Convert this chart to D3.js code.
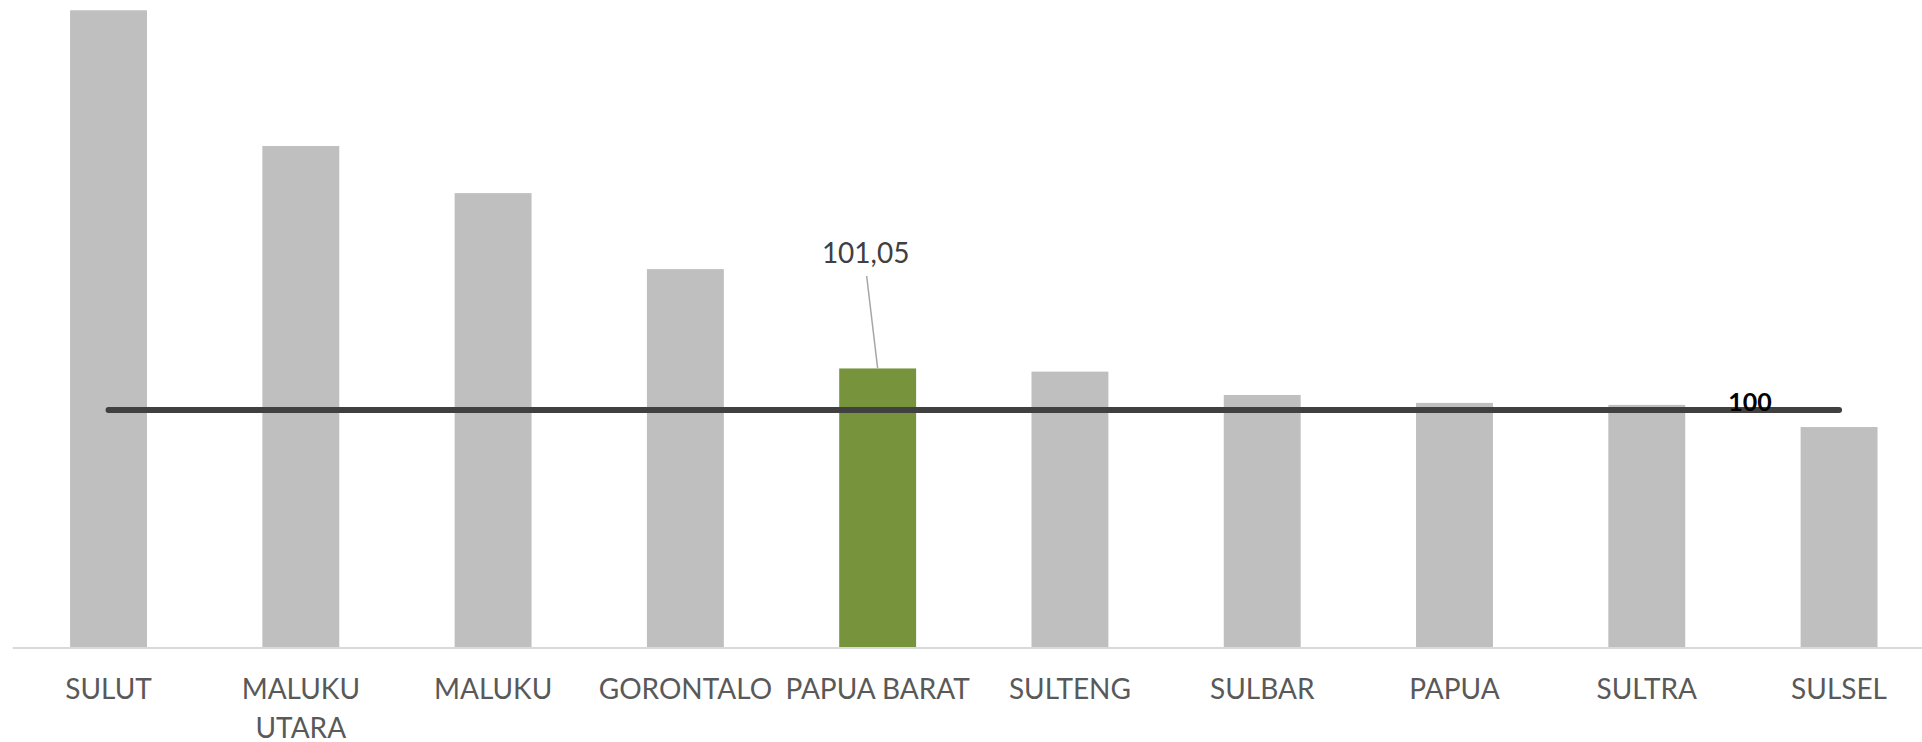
<!DOCTYPE html>
<html>
<head>
<meta charset="utf-8">
<script src="https://cdn.jsdelivr.net/npm/d3@7"></script>
<style>
  html, body { margin: 0; padding: 0; background: #fff; }
  svg { display: block; }
</style>
</head>
<body>
<div id="chart"></div>
<script>
const categories = ["SULUT", "MALUKU UTARA", "MALUKU", "GORONTALO", "PAPUA BARAT",
                    "SULTENG", "SULBAR", "PAPUA", "SULTRA", "SULSEL"];
const values = [110.1, 106.67, 105.48, 103.56, 101.05, 100.97, 100.38, 100.18, 100.13, 99.57];
const reference = [100, 100, 100, 100, 100, 100, 100, 100, 100, 100];
const highlight = "PAPUA BARAT";
const highlightLabel = "101,05";
const referenceLabel = "100";
const yDomain = [94, 110];

const width = 1922,
      height = 742;

let svg = d3.select('#chart')
    .append('svg')
    .attr('width', width)
    .attr('height', height);

let x = d3.scaleBand()
    .domain(categories)
    .range([12.4, 1935.2])
    .paddingInner(0.6)
    .paddingOuter(0.3);

const baseline = 647.5;
let y = d3.scaleLinear()
    .domain(yDomain)
    .range([baseline, baseline - 16 * 39.58]);

// bars
svg.append('g')
    .selectAll('rect')
    .data(categories)
    .enter()
    .append('rect')
    .attr('x', d => x(d))
    .attr('y', (d, i) => y(values[i]))
    .attr('width', x.bandwidth())
    .attr('height', (d, i) => y(yDomain[0]) - y(values[i]))
    .attr('fill', d => d === highlight ? '#77933c' : '#bfbfbf');

// category axis
svg.append('line')
    .attr('x1', 12.7)
    .attr('x2', width)
    .attr('y1', baseline + 0.5)
    .attr('y2', baseline + 0.5)
    .attr('stroke', '#d9d9d9')
    .attr('stroke-width', 2);

let labels = svg.append('g')
    .attr('font-family', 'Lato, "Open Sans", sans-serif')
    .attr('font-size', 28)
    .attr('fill', '#595959')
    .attr('text-anchor', 'middle');

categories.forEach((c, i) => {
    // wrap long names like Excel does
    const lines = c === "MALUKU UTARA" ? ["MALUKU", "UTARA"] : [c];
    let t = labels.append('text')
        .attr('x', x(c) + x.bandwidth() / 2)
        .attr('y', 699);
    lines.forEach((l, j) => {
        t.append('tspan')
            .attr('x', x(c) + x.bandwidth() / 2)
            .attr('dy', j === 0 ? 0 : 39)
            .text(l);
    });
});

// reference line at 100
let line = d3.line()
    .x((d, i) => x(categories[i]) + x.bandwidth() / 2)
    .y(d => y(d));

svg.append('path')
    .datum(reference)
    .attr('d', line)
    .attr('fill', 'none')
    .attr('stroke', '#404040')
    .attr('stroke-width', 6)
    .attr('stroke-linecap', 'round');

const n = categories.length;
svg.append('text')
    .attr('x', (x(categories[n - 2]) + x(categories[n - 1])) / 2 + x.bandwidth() / 2 + 7)
    .attr('y', y(reference[n - 1]) + 1)
    .attr('text-anchor', 'middle')
    .attr('font-family', 'Lato, "Open Sans", sans-serif')
    .attr('font-weight', 'bold')
    .attr('font-size', 25)
    .attr('fill', '#000')
    .text(referenceLabel);

// data label with leader line for the highlighted bar
const hi = categories.indexOf(highlight);
const hx = x(highlight) + x.bandwidth() / 2;

svg.append('line')
    .attr('x1', hx - 11)
    .attr('y1', 276)
    .attr('x2', hx)
    .attr('y2', y(values[hi]))
    .attr('stroke', '#a6a6a6')
    .attr('stroke-width', 1.5);

svg.append('text')
    .attr('x', hx - 12)
    .attr('y', 263)
    .attr('text-anchor', 'middle')
    .attr('font-family', 'Lato, "Open Sans", sans-serif')
    .attr('font-size', 28)
    .attr('fill', '#404040')
    .text(highlightLabel);
</script>
</body>
</html>
